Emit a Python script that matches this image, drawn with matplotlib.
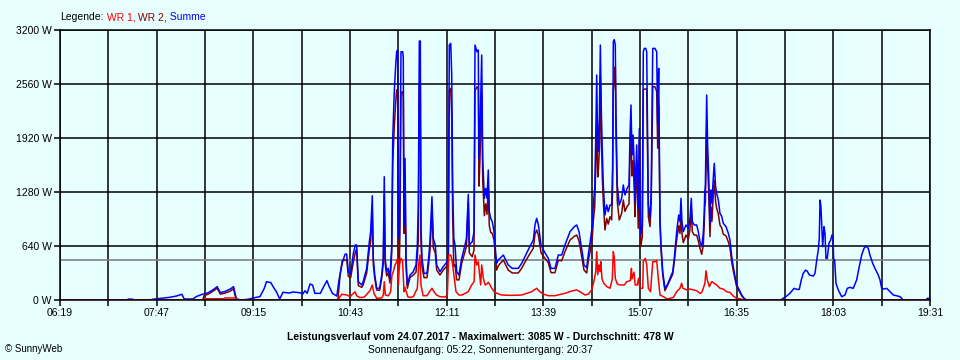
import numpy as np
import matplotlib
matplotlib.use("Agg")
from matplotlib import pyplot as plt

# Zeit in Minuten seit Mitternacht, Leistung in W
summe = [(379,0),(440,0),(441,10),(445,10),(446,0),(462,0),(463,8),(472,22),(479,32),(485,47),(490,68),(492,12),(500,12),(503,40),(509,70),(514,87),(519,127),(522,158),(525,87),(529,100),(534,130),(537,158),(539,40),(540,12),(544,0),(550,8),(555,24),(561,40),(565,139),(567,217),(571,205),(573,158),(576,98),(579,12),(582,91),(588,83),(591,95),(594,91),(598,85),(600,71),(602,110),(604,79),(606.6,190),(609,176),(611,79),(616,79),(619,158),(622,229),(624,160),(627,79),(631,47),(633,237),(636,442),(638.5,542),(640,545),(641.5,335),(643.6,305),(646,550),(647.8,652),(649,652),(650.6,217),(653.7,178),(655,217),(658.2,375),(660.6,691),(661.8,810),(663.3,1236),(664.2,498),(665.5,300),(667.3,138),(670,140),(671.9,300),(673.3,494),(674.2,1461),(675,494),(676.4,335),(677.8,375),(679.4,257),(681,652),(681.9,1916),(682.4,2113),(683.3,2468),(684.6,2785),(685.5,2942),(686.4,2963),(687,889),(687.9,731),(688.5,1283),(689.4,2942),(691,2942),(691.5,2864),(692.2,889),(693.1,1679),(694,494),(695.2,178),(697.6,296),(700.6,335),(703.1,415),(704.3,652),(705.2,1126),(706.1,3069),(707,3069),(707.6,889),(708.5,494),(710.4,316),(713.1,316),(714.6,494),(715.8,691),(717.6,1224),(718.8,731),(720.6,652),(721.9,415),(724.9,335),(727.9,395),(731,447),(732.5,533),(733.4,3022),(734.7,3042),(735.6,2666),(736.5,1323),(737.5,731),(738.6,652),(740.1,335),(742.2,296),(744.7,494),(747.7,652),(749,731),(750.7,1252),(751.6,652),(754.3,691),(755.9,810),(756.8,3022),(757.7,2982),(758.6,2942),(759.8,2963),(760.4,1679),(761.3,1995),(762.9,2903),(763.8,1679),(765.3,1205),(766.5,1323),(767.7,1205),(768.9,1541),(769.8,1047),(771.1,968),(772.5,929),(774.1,810),(775,652),(776.5,435),(778,474),(779.6,494),(782.6,533),(784,494),(787.1,415),(790.7,375),(796.2,375),(799.3,435),(802.9,533),(805.9,612),(809.9,711),(811.4,889),(812.9,968),(814.5,889),(816.9,652),(819.9,573),(823.5,494),(826,375),(829.6,375),(832.6,533),(835.7,533),(838.7,652),(843.3,810),(847.2,869),(849.4,889),(851.5,810),(853.3,652),(854.8,533),(856,415),(858.5,383),(859.9,533),(862.1,731),(863.6,889),(864.5,1126),(865.8,1323),(866.7,1916),(867.6,2666),(868.5,1758),(869.2,1916),(870,2153),(870.9,3022),(871.8,2232),(872.7,1758),(873.6,1363),(875.1,1007),(876.7,1126),(878.1,1047),(879.7,1126),(881.2,1126),(882.1,1600),(882.7,3061),(883.6,3085),(884.5,3022),(885.1,2232),(886.3,1363),(888.1,1126),(890.3,1205),(891.8,1363),(893.3,1245),(895.2,1323),(897,1363),(897.9,1955),(898.8,2311),(899.7,1718),(900.7,1955),(901.8,1600),(902.4,1165),(904,1837),(905.4,1087),(906.4,2034),(907.6,770),(909.1,889),(910,2942),(910.9,2982),(912.2,2982),(913.1,2942),(914.6,1126),(916.1,968),(917.2,1283),(918.6,2982),(920.6,2982),(922.2,2942),(923.1,2074),(924,2746),(925.2,968),(926.1,652),(927.7,335),(929.7,138),(931.8,178),(934.3,257),(936.8,335),(938.2,494),(940.4,810),(942.2,1007),(943.4,929),(944.3,1205),(945.2,929),(946.4,810),(948.9,889),(951,850),(952.5,968),(953.7,1205),(954.6,929),(956.4,889),(958.6,889),(960.1,810),(961.6,691),(963.2,632),(964.6,790),(965.5,1047),(965.9,1264),(966.5,1363),(967.1,1896),(967.7,2429),(968.6,1817),(969.5,1500),(970.7,909),(971.6,1304),(972.5,1150),(973.6,1422),(974.6,1620),(975.8,1350),(976.8,1264),(978.3,1185),(979.8,1027),(981.4,990),(982.8,909),(985.3,869),(987.4,790),(988.9,711),(990.5,513),(991.9,395),(993.5,276),(995,178),(997.4,119),(999.6,59),(1001.7,20),(1004.1,0),(1035,0),(1037.4,20),(1040.5,47),(1043.5,79),(1047.2,138),(1049.9,126),(1052,126),(1053.8,237),(1055.6,316),(1057.8,355),(1059.3,340),(1061.2,296),(1064.8,284),(1066.3,316),(1067.9,474),(1069.3,593),(1070.2,731),(1070.9,1185),(1071.7,1106),(1072.4,909),(1073.3,632),(1074.5,869),(1075.4,790),(1076.3,494),(1077.5,494),(1079,672),(1080.6,711),(1081.8,770),(1082.7,750),(1083.3,474),(1084.2,474),(1085.4,198),(1087.5,119),(1090.6,39),(1093.6,59),(1095.7,138),(1098.1,150),(1101.1,138),(1104.2,237),(1106.6,395),(1108.8,533),(1110.9,612),(1112.7,640),(1114.8,612),(1116.3,533),(1118.8,435),(1120.9,375),(1123.9,296),(1125.5,237),(1127,138),(1129.1,130),(1131.6,138),(1134.6,99),(1137.6,59),(1140.7,50),(1143.7,39),(1146.7,0),(1168,0),(1168.5,20),(1169.5,20),(1170,0),(1171,0)]

wr1 = [(379,0),(509,0),(510,15),(528,15),(529,24),(539,24),(540,0),(632,0),(633,20),(635.4,68),(640,60),(643,39),(647.6,98),(649,51),(652,28),(656,35),(661,107),(663.3,178),(664.8,80),(667.3,20),(672,25),(673.3,59),(674.2,217),(675.2,60),(677.9,50),(680,98),(681.2,296),(682.4,335),(684,415),(685.5,454),(686.4,494),(687,178),(688,415),(689.2,494),(690.8,470),(692.2,98),(693,150),(695.6,39),(697.6,30),(700.6,39),(704.3,139),(705.5,415),(706.7,533),(707.6,178),(709.6,51),(713.1,51),(715.8,107),(717.6,139),(719.5,98),(721.7,60),(724.9,39),(729.5,35),(731.6,59),(732.9,533),(734.7,533),(735.9,470),(736.8,375),(738,257),(739.5,98),(742.2,59),(745,59),(747.7,79),(750.7,98),(753.7,178),(756,217),(756.8,533),(758.4,415),(759.8,454),(760.7,335),(762,178),(762.9,415),(764.4,257),(766,178),(767.7,190),(768.9,210),(770.5,178),(772,139),(774.4,98),(776.5,80),(781,59),(790,55),(799.3,59),(808.4,98),(812.9,139),(816,98),(819,70),(823.5,51),(829.6,51),(838.7,79),(844.8,107),(849.4,119),(852.4,98),(857,59),(860,70),(863,119),(865,217),(866.7,335),(867.6,573),(868.5,300),(869.6,415),(870.6,335),(871.3,454),(872.4,250),(874,198),(876.7,160),(879.7,139),(881.8,250),(882.7,573),(883.6,500),(884.5,257),(886.3,190),(888.8,178),(892.8,178),(894.9,217),(898.2,230),(899.2,375),(899.7,250),(901.5,330),(902.6,178),(904.5,178),(905.7,257),(906.8,139),(909.5,139),(910,454),(911.8,494),(913.1,420),(914.6,139),(916.6,98),(918.6,454),(920.6,454),(922.2,470),(923.7,250),(925.2,59),(928.2,40),(931.8,12),(934.3,20),(937.3,30),(940.4,98),(943.4,139),(944.9,198),(946,139),(949.4,120),(952.5,130),(955.5,120),(958.6,110),(961.6,79),(963.2,90),(964.6,139),(966.1,198),(967.1,347),(968.3,237),(970.1,158),(972.3,217),(974.3,200),(976.8,178),(979.8,139),(982.8,130),(985.9,98),(988.9,90),(991.9,47),(995,20),(998,15),(1001,0),(1171,0)]

wr2 = [(379,0),(509,0),(510,50),(514,70),(519,110),(522,140),(525,70),(529,80),(534,105),(537,135),(539,20),(540,0),(632,0),(634,300),(636,470),(638.5,470),(640,480),(641.5,280),(643.6,265),(646,450),(647.8,560),(649,600),(650.6,170),(653.7,150),(655,180),(658.2,320),(660.6,600),(661.8,690),(663.3,1058),(664.2,420),(665.5,260),(667.3,118),(670,115),(671.9,260),(673.3,435),(674.2,1244),(675,434),(676.4,285),(677.8,325),(679.4,200),(681,560),(681.9,1620),(682.4,1780),(683.3,2050),(684.6,2350),(685.5,2490),(686.4,2470),(687,711),(687.9,380),(688.5,850),(689.4,2450),(691,2470),(691.5,2400),(692.2,790),(693.1,1530),(694,400),(695.2,139),(697.6,266),(700.6,296),(703.1,330),(704.3,513),(705.2,711),(706.1,2536),(707,2536),(707.6,711),(708.5,400),(710.4,265),(713.1,265),(714.6,430),(715.8,584),(717.6,1085),(718.8,620),(720.6,560),(721.9,355),(724.9,296),(727.9,355),(731,400),(732.5,470),(733.4,2489),(734.7,2509),(735.6,2190),(736.5,948),(737.5,400),(738.6,420),(740.1,240),(742.2,237),(744.7,435),(747.7,573),(749,640),(750.7,1154),(751.6,560),(754.3,513),(755.9,593),(756.8,2489),(757.7,2500),(758.6,2527),(759.8,2509),(760.4,1350),(761.3,1660),(762.9,2488),(763.8,1420),(765.3,1000),(766.5,1140),(767.7,1015),(768.9,1331),(769.8,880),(771.1,800),(772.5,790),(774.1,712),(775,572),(776.5,355),(778,405),(779.6,430),(782.6,474),(784,435),(787.1,355),(790.7,320),(796.2,320),(799.3,376),(802.9,463),(805.9,530),(809.9,613),(811.4,780),(812.9,829),(814.5,770),(816.9,560),(819.9,503),(823.5,443),(826,324),(829.6,324),(832.6,470),(835.7,465),(838.7,573),(843.3,710),(847.2,755),(849.4,770),(851.5,700),(853.3,560),(854.8,440),(856,356),(858.5,320),(859.9,463),(862.1,612),(863.6,740),(864.5,940),(865.8,1106),(866.7,1580),(867.6,2093),(868.5,1458),(869.2,1560),(870,1780),(870.9,2650),(871.8,1900),(872.7,1450),(873.6,1165),(875.1,830),(876.7,966),(878.1,900),(879.7,987),(881.2,950),(882.1,1350),(882.7,2488),(883.6,2581),(884.5,2765),(885.1,2000),(886.3,1173),(888.1,948),(890.3,1027),(891.8,1185),(893.3,1050),(895.2,1106),(897,1140),(897.9,1720),(898.8,1936),(899.7,1470),(900.7,1650),(901.8,1300),(902.4,987),(904,1660),(905.4,850),(906.4,1895),(907.6,631),(909.1,750),(910,2488),(910.9,2500),(912.2,2500),(913.1,2500),(914.6,987),(916.1,870),(917.2,1150),(918.6,2528),(920.6,2528),(922.2,2472),(923.1,1800),(924,2300),(925.2,909),(926.1,610),(927.7,295),(929.7,110),(931.8,166),(934.3,237),(936.8,305),(938.2,450),(940.4,712),(942.2,880),(943.4,790),(944.3,1007),(945.2,790),(946.4,680),(948.9,769),(951,725),(952.5,838),(953.7,1085),(954.6,809),(956.4,769),(958.6,769),(960.1,700),(961.6,612),(963.2,542),(964.6,651),(965.5,900),(965.9,1100),(966.5,1165),(967.1,1549),(967.7,2082),(968.6,1580),(969.5,1300),(970.7,751),(971.6,1100),(972.5,933),(973.6,1222),(974.6,1420),(975.8,1170),(976.8,1086),(978.3,1020),(979.8,888),(981.4,855),(982.8,779),(985.3,760),(987.4,690),(988.9,621),(990.5,450),(991.9,348),(993.5,250),(995,158),(997.4,104),(999.6,50),(1001.7,15),(1004,0),(1171,0)]

durchschnitt = 478
x_start, x_end, x_step = 379, 1171, 44
y_ticks = [0, 640, 1280, 1920, 2560, 3200]

bg = "#E8FFFF"
plt.rcParams["font.family"] = ["Liberation Sans", "DejaVu Sans"]

fig = plt.figure(figsize=(9.6, 3.6), dpi=100, facecolor=bg)
ax = fig.add_axes([60/960, 60/360, 870/960, 270/360])
ax.set_facecolor(bg)

ax.axhline(durchschnitt, color="#808080", lw=1.2, zorder=1.5)

# WR 2 unter der Summe, WR 1 obenauf
for daten, farbe in [(wr2, "#800000"), (summe, "#0000FF"), (wr1, "#FF0000")]:
    t, w = zip(*daten)
    ax.plot(t, w, color=farbe, lw=1.1, zorder=2)

ax.set_xlim(x_start, x_end)
ax.set_ylim(0, 3200)

xt = np.arange(x_start, x_end + 1, x_step)
ax.set_xticks(xt)
ax.set_xticklabels([f"{v // 60:02d}:{v % 60:02d}" if (v - x_start) % 88 == 0 else "" for v in xt])
ax.set_yticks(y_ticks)
ax.set_yticklabels([f"{v} W" for v in y_ticks])

ax.grid(True, color="black", lw=1.1, zorder=1)
ax.set_axisbelow(True)
for s in ax.spines.values():
    s.set_color("black")
    s.set_linewidth(1.1)
    s.set_zorder(3)
ax.tick_params(length=4, width=1.1, labelsize=7.5, pad=2, color="black")

# Legende oben links
txt = fig.text(60/960, 1 - 17/360, "Legende:", fontsize=7.5, va="center", ha="left")
for teil, farbe in [(" WR 1,", "#FF0000"), (" WR 2,", "#800000"), (" Summe", "#0000FF")]:
    txt = ax.annotate(teil, xy=(1, 0), xycoords=txt, va="bottom", ha="left",
                      fontsize=7.5, color=farbe, annotation_clip=False)

fig.text(0.5, 1 - 337/360, "Leistungsverlauf vom 24.07.2017 - Maximalwert: 3085 W - Durchschnitt: 478 W",
         fontsize=7.5, fontweight="bold", ha="center", va="center")
fig.text(0.5, 1 - 350/360, "Sonnenaufgang: 05:22, Sonnenuntergang: 20:37",
         fontsize=7.5, ha="center", va="center")
fig.text(5/960, 1 - 349/360, "© SunnyWeb", fontsize=7, ha="left", va="center")

fig.savefig("out.png", dpi=100, facecolor=bg)
